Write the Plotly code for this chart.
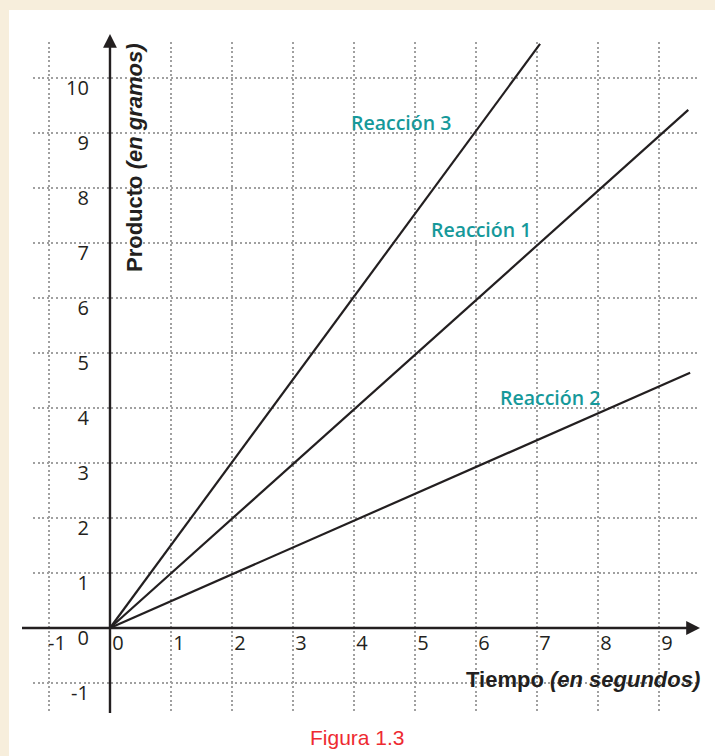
import plotly.graph_objects as go

# ---- data ----
tiempo_r1 = [0, 9.48]
producto_r1 = [0, 9.42]
tiempo_r2 = [0, 9.51]
producto_r2 = [0, 4.64]
tiempo_r3 = [0, 7.05]
producto_r3 = [0, 10.62]

etiquetas = ["Reacción 3", "Reacción 1", "Reacción 2"]
etiqueta_x = [4.77, 6.08, 7.21]
etiqueta_y = [9.2, 7.24, 4.2]

x_ticks = [-1, 0, 1, 2, 3, 4, 5, 6, 7, 8, 9]
y_ticks = [-1, 0, 1, 2, 3, 4, 5, 6, 7, 8, 9, 10]

X_RANGE = [-1.262, 9.672]
Y_RANGE = [-1.527, 10.655]

W, H = 715, 756
ML, MR, MT, MB = 33, 15, 42, 44
PW = W - ML - MR
PH = H - MT - MB

def xfrac(v):
    return (v - X_RANGE[0]) / (X_RANGE[1] - X_RANGE[0])

def yfrac(v):
    return (v - Y_RANGE[0]) / (Y_RANGE[1] - Y_RANGE[0])

INK = "#231F20"
TEAL = "#16999A"
GRID = "#A0A0A0"
CREAM = "#F7EEDC"

fig = go.Figure()
for tx, py in [(tiempo_r1, producto_r1), (tiempo_r2, producto_r2), (tiempo_r3, producto_r3)]:
    fig.add_trace(go.Scatter(x=tx, y=py, mode="lines",
                             line=dict(color=INK, width=2.2),
                             hoverinfo="skip", showlegend=False))

tickfont = dict(family="Open Sans", size=20, color=INK)

fig.update_xaxes(range=X_RANGE, tickvals=x_ticks, ticktext=[str(v) for v in x_ticks],
                 showgrid=True, gridcolor=GRID, gridwidth=2, griddash="2px,2.6px",
                 zeroline=False, showline=False, ticks="",
                 anchor="free", position=yfrac(0),
                 tickfont=tickfont, ticklabelshift=8, ticklabelstandoff=1)
fig.update_yaxes(range=Y_RANGE, tickvals=y_ticks, ticktext=[str(v) for v in y_ticks],
                 showgrid=True, gridcolor=GRID, gridwidth=2, griddash="2px,2.6px",
                 zeroline=False, showline=False, ticks="",
                 anchor="free", position=xfrac(0),
                 tickfont=tickfont, ticklabelshift=10, ticklabelstandoff=21)

shapes = [
    # white panel
    dict(type="rect", xref="paper", yref="paper",
         x0=(9 - ML) / PW, x1=(W + 10 - ML) / PW,
         y0=-(MB + 5) / PH, y1=1 + (MT - 10) / PH,
         fillcolor="white", line=dict(width=0), layer="below"),
    # x axis line
    dict(type="line", xref="paper", yref="y",
         x0=(22 - ML) / PW, x1=(692 - ML) / PW, y0=0, y1=0,
         line=dict(color=INK, width=2.4)),
    # y axis line
    dict(type="line", xref="x", yref="paper",
         x0=0, x1=0, y0=-1 / PH, y1=1 + 0 / PH,
         line=dict(color=INK, width=2.4)),
]

annotations = []
# arrow heads
annotations.append(dict(xref="paper", yref="y", x=(700 - ML) / PW, y=0,
                        ax=-12, ay=0, text="", showarrow=True,
                        arrowhead=2, arrowsize=1.15, arrowwidth=2.4, arrowcolor=INK))
annotations.append(dict(xref="x", yref="paper", x=0, y=1 + (MT - 34) / PH,
                        ax=0, ay=12, text="", showarrow=True,
                        arrowhead=2, arrowsize=1.15, arrowwidth=2.4, arrowcolor=INK))
# reaction labels
for t, xx, yy in zip(etiquetas, etiqueta_x, etiqueta_y):
    annotations.append(dict(x=xx, y=yy, text=t, showarrow=False,
                            font=dict(family="Open Sans", size=19.5, color=TEAL, weight=600)))
# axis titles
annotations.append(dict(xref="paper", yref="y", x=(702 - ML) / PW, y=-0.93,
                        xanchor="right", yanchor="middle", showarrow=False,
                        text="<b>Tiempo <i>(en segundos)</i></b>",
                        font=dict(family="Liberation Sans", size=22, color=INK)))
annotations.append(dict(xref="x", yref="y", x=0.39, y=8.56, textangle=-90,
                        xanchor="center", yanchor="middle", showarrow=False,
                        text="<b>Producto <i>(en gramos)</i></b>",
                        font=dict(family="Liberation Sans", size=22, color=INK)))
# figure caption
annotations.append(dict(xref="paper", yref="paper", x=(357 - ML) / PW, y=-(737 - (H - MB)) / PH,
                        xanchor="center", yanchor="middle", showarrow=False,
                        text="Figura 1.3",
                        font=dict(family="Liberation Sans", size=21, color="#EE2A31")))

fig.update_layout(width=W, height=H,
                  margin=dict(l=ML, r=MR, t=MT, b=MB),
                  paper_bgcolor=CREAM, plot_bgcolor="white",
                  shapes=shapes, annotations=annotations, showlegend=False)

fig.write_html("out.html", config={"displayModeBar": False},
               post_script="document.body.style.margin='0px';document.body.style.overflow='hidden';")
